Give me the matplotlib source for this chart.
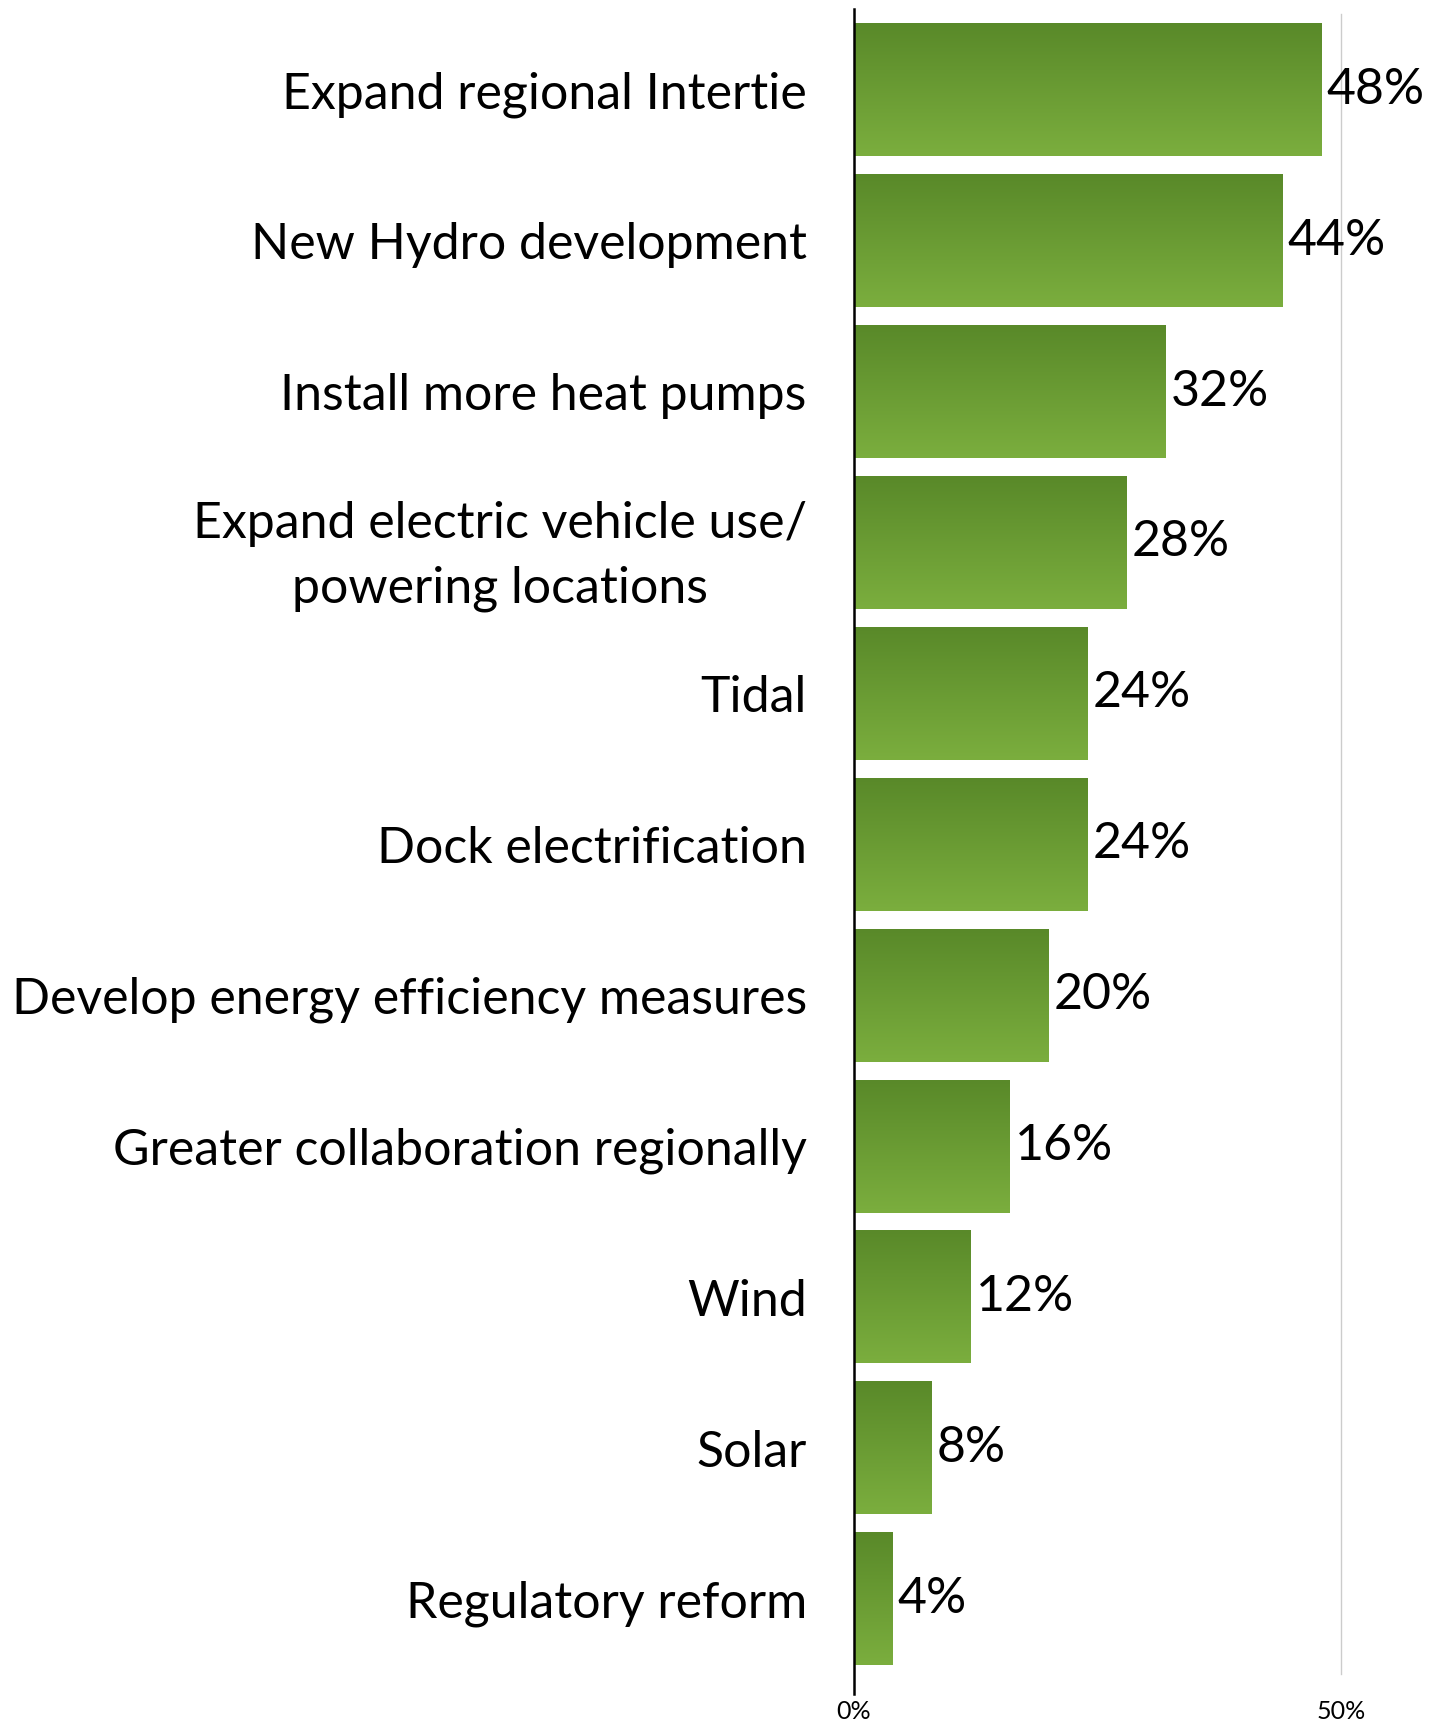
import matplotlib
matplotlib.use("Agg")
import matplotlib.pyplot as plt
import numpy as np
from matplotlib.colors import LinearSegmentedColormap

categories = [
    "Expand regional Intertie",
    "New Hydro development",
    "Install more heat pumps",
    "Expand electric vehicle use/\npowering locations",
    "Tidal",
    "Dock electrification",
    "Develop energy efficiency measures",
    "Greater collaboration regionally",
    "Wind",
    "Solar",
    "Regulatory reform",
]
values = [48, 44, 32, 28, 24, 24, 20, 16, 12, 8, 4]
x_ticks = [0, 50]
x_tick_labels = ["0%", "50%"]

top_color = "#598929"
bottom_color = "#7bae3e"
grad = LinearSegmentedColormap.from_list("bar_grad", [top_color, bottom_color])

plt.rcParams["font.family"] = ["Lato", "DejaVu Sans"]

fig = plt.figure(figsize=(14.42, 17.2), dpi=100)
ax = fig.add_axes([854 / 1442, 26 / 1720, 588 / 1442, 1685 / 1720])

y = np.arange(len(categories))
bars = ax.barh(y, values, height=0.88, color="none", edgecolor="none", zorder=2)

# vertical gradient inside each bar
g = np.linspace(0, 1, 256).reshape(-1, 1)
for rect in bars:
    x0, y0 = rect.get_x(), rect.get_y()
    w, h = rect.get_width(), rect.get_height()
    ax.imshow(g, cmap=grad, aspect="auto", extent=(x0, x0 + w, y0 + h, y0),
              origin="upper", zorder=2, interpolation="bilinear")

for yi, v in zip(y, values):
    ax.text(v + 0.5, yi, f"{v}%", va="center", ha="left", fontsize=36, color="black")

ax.set_xlim(0, 60.4)
ax.set_ylim(10.63, -0.535)
ax.set_yticks(y)
ax.set_yticklabels(categories, fontsize=36, ha="right", multialignment="center",
                   linespacing=1.5)
ax.tick_params(axis="y", length=0, pad=34)
ax.set_xticks(x_ticks)
ax.set_xticklabels(x_tick_labels, fontsize=18)
ax.tick_params(axis="x", length=0, pad=4)

ax.axvline(50, ymin=0.012, ymax=0.997, color="#cccccc", linewidth=1, zorder=1)

for side in ("top", "right", "bottom"):
    ax.spines[side].set_visible(False)
ax.spines["left"].set_linewidth(1.8)
ax.spines["left"].set_color("black")
ax.spines["left"].set_zorder(3)

fig.savefig("out.png", dpi=100)
